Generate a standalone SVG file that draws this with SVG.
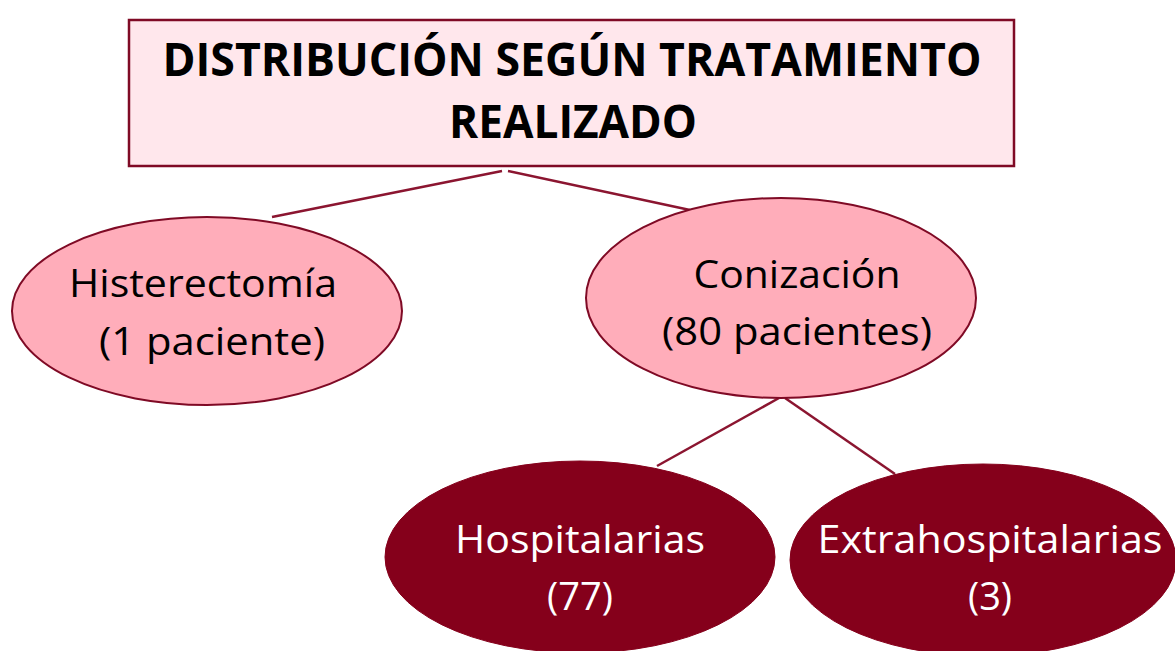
<svg xmlns="http://www.w3.org/2000/svg" width="1175" height="651" viewBox="0 0 1175 651">
<style>
.conn{stroke:#8B1530;stroke-width:2.5;fill:none}
.title{font-family:"Open Sans","Liberation Sans",sans-serif;font-weight:bold;font-size:46px;fill:#000;text-anchor:middle}
.lbl{font-family:"Open Sans","Liberation Sans",sans-serif;font-size:38px;fill:#000;text-anchor:middle}
.lblw{font-family:"Open Sans","Liberation Sans",sans-serif;font-size:38px;fill:#fff;text-anchor:middle}
.pink{fill:#FFADBA;stroke:#7F0A25;stroke-width:2}
.dark{fill:#85001B;stroke:#85001B;stroke-width:1}
</style>
<rect width="1175" height="651" fill="#fff"/>
<g id="connectors">
<line class="conn" x1="502" y1="171" x2="272" y2="217"/>
<line class="conn" x1="508" y1="171" x2="690" y2="210"/>
<line class="conn" x1="779" y1="398" x2="657" y2="466"/>
<line class="conn" x1="785" y1="398" x2="895" y2="474"/>
</g>
<g id="title">
<rect x="129" y="20" width="885" height="146" fill="#FFE7EC" stroke="#7F0A25" stroke-width="2.5"/>
<text class="title" x="572" y="76" textLength="819" lengthAdjust="spacingAndGlyphs">DISTRIBUCIÓN SEGÚN TRATAMIENTO</text>
<text class="title" x="573" y="138" textLength="248" lengthAdjust="spacingAndGlyphs">REALIZADO</text>
</g>
<g id="histerectomia">
<ellipse class="pink" cx="207" cy="311" rx="195" ry="94"/>
<text class="lbl" x="203" y="297" textLength="268" lengthAdjust="spacingAndGlyphs">Histerectomía</text>
<text class="lbl" x="212" y="355" textLength="226" lengthAdjust="spacingAndGlyphs">(1 paciente)</text>
</g>
<g id="conizacion">
<ellipse class="pink" cx="781" cy="298" rx="195" ry="100"/>
<text class="lbl" x="797" y="288" textLength="207" lengthAdjust="spacingAndGlyphs">Conización</text>
<text class="lbl" x="797" y="345" textLength="270" lengthAdjust="spacingAndGlyphs">(80 pacientes)</text>
</g>
<g id="hospitalarias">
<ellipse class="dark" cx="580" cy="557" rx="195" ry="96"/>
<text class="lblw" x="580" y="553" textLength="250" lengthAdjust="spacingAndGlyphs">Hospitalarias</text>
<text class="lblw" x="580" y="610">(77)</text>
</g>
<g id="extrahospitalarias">
<ellipse class="dark" cx="983" cy="560" rx="193" ry="96"/>
<text class="lblw" x="990" y="553" textLength="345" lengthAdjust="spacingAndGlyphs">Extrahospitalarias</text>
<text class="lblw" x="990" y="610">(3)</text>
</g>
</svg>
